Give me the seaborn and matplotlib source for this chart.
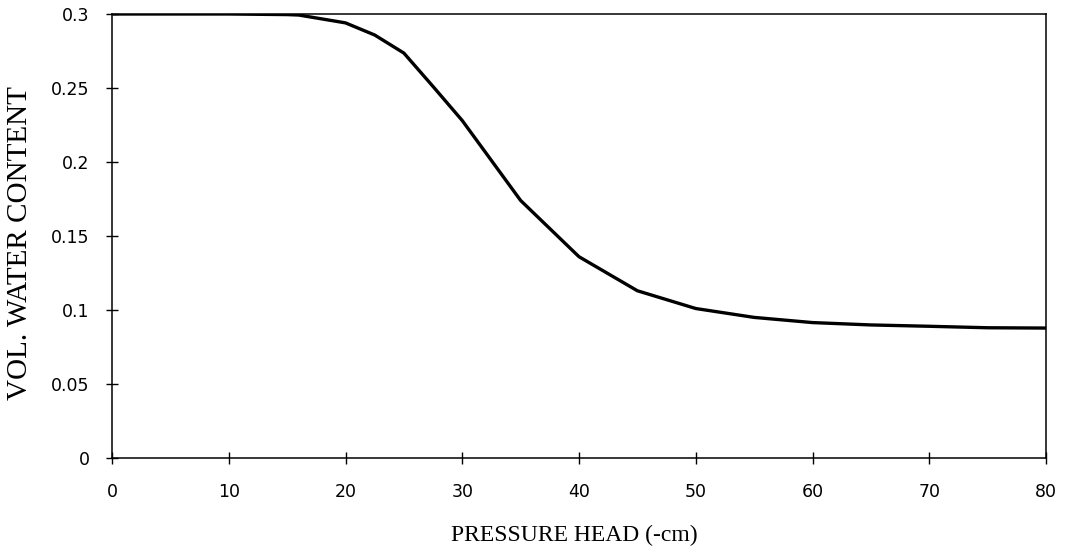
import matplotlib
matplotlib.use("Agg")
import matplotlib.pyplot as plt
import seaborn as sns
import pandas as pd

pressure_head = [0, 10, 15, 16, 20, 22.5, 25, 27.5, 30, 35, 40, 45, 50, 55, 60, 65, 70, 75, 80]
water_content = [0.3, 0.3, 0.2996, 0.2993, 0.294, 0.2858, 0.2736, 0.251, 0.228, 0.174, 0.136,
                 0.113, 0.101, 0.095, 0.0915, 0.0899, 0.0890, 0.0880, 0.0878]
x_ticks = [0, 10, 20, 30, 40, 50, 60, 70, 80]
y_ticks = [0, 0.05, 0.1, 0.15, 0.2, 0.25, 0.3]
y_tick_labels = ["0", "0.05", "0.1", "0.15", "0.2", "0.25", "0.3"]

sns.set_theme(style="white")
plt.rcParams['font.family'] = ['DejaVu Sans']

df = pd.DataFrame({"h": pressure_head, "theta": water_content})

fig = plt.figure(figsize=(10.65, 5.54), dpi=100)
ax = fig.add_axes([112/1065, 1 - 458/554, (1046-112)/1065, (458-14)/554])
sns.lineplot(data=df, x="h", y="theta", ax=ax, color="black", linewidth=2.4)

ax.set_xlim(0, 80)
ax.set_ylim(0, 0.3)
ax.set_xticks(x_ticks)
ax.set_xticklabels([str(t) for t in x_ticks])
ax.set_yticks(y_ticks)
ax.set_yticklabels(y_tick_labels)
for s in ax.spines.values():
    s.set_color("black")
    s.set_linewidth(1.1)
ax.tick_params(axis="both", direction="inout", length=8, width=1.0, color="black",
               labelsize=12.5, labelcolor="black", bottom=True, left=True)
ax.tick_params(axis="x", pad=14)
ax.tick_params(axis="y", pad=12)

ax.set_xlabel("PRESSURE HEAD (-cm)", family=["Liberation Serif"], fontsize=17, color="black")
ax.set_ylabel("VOL. WATER CONTENT", family=["Liberation Serif"], fontsize=21, color="black")
ax.xaxis.set_label_coords((574 - 112) / 934, -(525 - 458) / 444)
ax.yaxis.set_label_coords(-(112 - 33) / 934, (458 - 243) / 444)

fig.savefig("out.png", dpi=100, facecolor="white")
